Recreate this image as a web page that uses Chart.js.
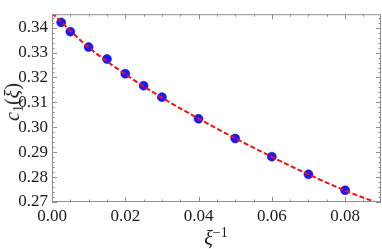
<!DOCTYPE html>
<html>
<head>
<meta charset="utf-8">
<script src="https://cdn.jsdelivr.net/npm/chart.js@4/dist/chart.umd.min.js"></script>
<style>
  html, body { margin: 0; padding: 0; background: #fff; }
  #wrap { position: relative; width: 382px; height: 249px; }
  .axtitle {
      position: absolute;
      font-family: 'Liberation Serif', 'DejaVu Serif', serif;
      font-size: 20px;
      line-height: 1;
      color: #1a1a1a;
      white-space: nowrap;
  }
  .axtitle sub, .axtitle sup { font-size: 0.7em; line-height: 0; }
  .axtitle sub { vertical-align: -0.25em; }
  .axtitle sup { vertical-align: 0.55em; }
  #ytitle { left: 12px; top: 102px; transform: translate(-50%, -50%) rotate(-90deg); }
  #xtitle { left: 216px; top: 238px; transform: translate(-50%, -50%); }
</style>
</head>
<body>
<div id="wrap">
  <canvas id="fitChart" width="382" height="249"></canvas>
  <div class="axtitle" id="ytitle"><i>c</i><sub>1</sub>(<i>ξ</i>)</div>
  <div class="axtitle" id="xtitle"><i>ξ</i><sup>−1</sup></div>
</div>
<script>
// data points (blue dots)
const invXi = [0.0025, 0.005, 0.01, 0.015, 0.02, 0.025, 0.03, 0.04, 0.05, 0.06, 0.07, 0.08];
const c1Vals = [0.3421, 0.3384, 0.3322, 0.3274, 0.3215, 0.3167, 0.3121, 0.3034, 0.2955, 0.2882, 0.2811, 0.2747];

// red dashed fit curve
const fitX = [0, 0.01, 0.02, 0.03, 0.04, 0.05, 0.06, 0.07, 0.08, 0.09];
const fitY = [0.3458, 0.3321, 0.3213, 0.3119, 0.3035, 0.2956, 0.2881, 0.2811, 0.2746, 0.2690];

// tick labels
const xTicks = [0, 0.02, 0.04, 0.06, 0.08];
const yTicks = [0.27, 0.28, 0.29, 0.30, 0.31, 0.32, 0.33, 0.34];

const frameColor = '#8f8f8f';
const labelFont = { family: "'Liberation Serif', 'DejaVu Serif', serif", size: 17 };

// frame + inward ticks on all four sides (Mathematica style)
const frameTicks = {
    id: 'frameTicks',
    afterDraw(chart) {
        const { ctx, chartArea: a, scales: { x, y } } = chart;
        ctx.save();
        ctx.strokeStyle = frameColor;
        ctx.lineWidth = 1;
        ctx.beginPath();
        // x ticks, minor every 0.005
        for (let i = 0; i <= 18; i++) {
            const v = i * 0.005;
            const px = Math.round(x.getPixelForValue(v)) + 0.5;
            if (px > a.right) break;
            const len = (i % 4 === 0) ? 5 : 2.5;
            ctx.moveTo(px, a.bottom); ctx.lineTo(px, a.bottom - len);
            ctx.moveTo(px, a.top); ctx.lineTo(px, a.top + len);
        }
        // y ticks, minor every 0.002
        for (let i = 0; i <= 40; i++) {
            const v = 0.27 + i * 0.002;
            const py = Math.round(y.getPixelForValue(v)) + 0.5;
            if (py < a.top) break;
            const len = (i % 5 === 0) ? 5 : 2.5;
            ctx.moveTo(a.left, py); ctx.lineTo(a.left + len, py);
            ctx.moveTo(a.right, py); ctx.lineTo(a.right - len, py);
        }
        ctx.stroke();
        ctx.strokeRect(a.left + 0.5, a.top + 0.5, a.right - a.left - 1, a.bottom - a.top - 1);
        ctx.restore();
    }
};

new Chart(document.getElementById('fitChart'), {
    type: 'scatter',
    data: {
        datasets: [
            {
                label: 'fit',
                data: fitX.map((v, i) => ({ x: v, y: fitY[i] })),
                showLine: true,
                borderColor: '#f01010',
                borderWidth: 2,
                borderDash: [5, 2.5],
                pointRadius: 0,
                cubicInterpolationMode: 'monotone',
                order: 0
            },
            {
                label: 'data',
                data: invXi.map((v, i) => ({ x: v, y: c1Vals[i] })),
                backgroundColor: '#1a1aff',
                borderColor: '#0000c8',
                borderWidth: 0.5,
                pointRadius: 4.5,
                order: 1
            }
        ]
    },
    options: {
        responsive: false,
        animation: false,
        events: [],
        layout: { autoPadding: false, padding: { top: 0, right: 1, left: 0, bottom: 0 } },
        plugins: { legend: { display: false }, tooltip: { enabled: false } },
        scales: {
            x: {
                type: 'linear',
                min: 0,
                max: 0.0898,
                afterBuildTicks: s => { s.ticks = xTicks.map(v => ({ value: v })); },
                afterFit: s => { s.height = 47; },
                grid: { display: false, drawTicks: false },
                border: { display: false },
                ticks: {
                    padding: 4,
                    color: '#1a1a1a',
                    font: labelFont,
                    maxRotation: 0,
                    callback: v => v.toFixed(2)
                }
            },
            y: {
                type: 'linear',
                min: 0.27,
                max: 0.3454,
                afterBuildTicks: s => { s.ticks = yTicks.map(v => ({ value: v })); },
                afterFit: s => { s.width = 52; },
                grid: { display: false, drawTicks: false },
                border: { display: false },
                ticks: {
                    padding: 4,
                    color: '#1a1a1a',
                    font: labelFont,
                    callback: v => v.toFixed(2)
                }
            }
        }
    },
    plugins: [frameTicks]
});
</script>
</body>
</html>
